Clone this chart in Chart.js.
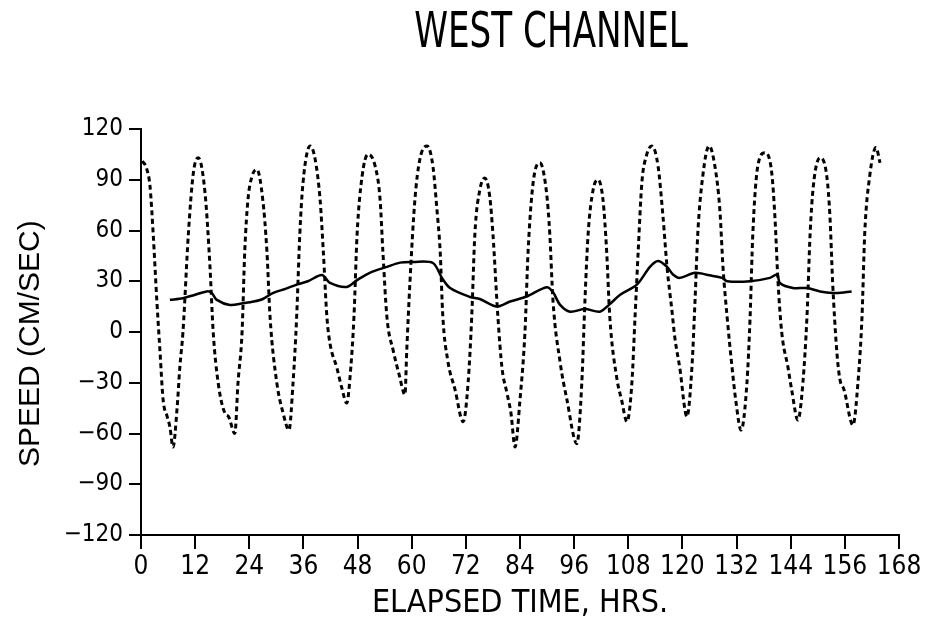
<!DOCTYPE html>
<html>
<head>
<meta charset="utf-8">
<script src="https://cdn.jsdelivr.net/npm/chart.js@4/dist/chart.umd.min.js"></script>
<style>
  html, body { margin: 0; padding: 0; background: #fff; }
  #wrap { width: 927px; height: 623px; }
</style>
</head>
<body>
<div id="wrap"><canvas id="chart" width="927" height="623"></canvas></div>
<script>
// Measured current, west channel: tidal speed (dashed) and filtered residual (solid)
const tideHours = [
  0.3, 1.2, 2.0, 2.7, 3.5, 4.2, 4.9, 5.8, 6.4, 7.1,
  8.0, 8.6, 9.3, 10.5, 11.6, 12.7, 14.2, 15.3, 16.0, 17.1, 18.6, 19.4, 20.8,
  21.5, 22.4, 23.0, 23.7, 24.6, 25.7, 27.0, 27.9, 28.6, 30.1, 31.5, 32.8,
  33.7, 34.5, 35.2, 35.9, 37.5, 38.6, 39.7, 40.4, 41.2, 41.9, 43.4, 44.5, 45.6,
  46.5, 47.2, 47.9, 49.0, 50.3, 51.9, 53.0, 53.6, 54.5, 55.9, 57.2, 58.5,
  58.9, 59.6, 60.7, 61.8, 63.4, 64.7, 65.6, 66.3, 66.9, 68.0, 69.6, 71.4,
  72.5, 73.3, 74.0, 75.1, 76.2, 77.3, 78.0, 79.1, 80.0, 81.1, 82.0, 82.9,
  84.0, 85.1, 85.8, 86.9, 88.4, 89.9, 90.6, 91.3, 92.9, 94.4, 96.6,
  97.7, 98.4, 99.1, 100.2, 101.3, 102.4, 103.2, 103.9, 105.5, 106.5, 107.7,
  108.8, 109.5, 110.2, 111.0, 112.0, 113.2, 114.6, 115.7, 116.6, 117.7, 118.3, 119.4, 121.0,
  122.1, 122.8, 123.4, 124.5, 125.9, 127.2, 128.3, 129.0, 129.9, 131.0, 131.8, 133.0,
  134.3, 135.0, 135.6, 136.7, 138.3, 139.8, 140.5, 141.2, 142.0, 143.4, 144.2, 145.6,
  146.7, 147.6, 148.3, 149.0, 150.5, 152.0, 152.7, 153.3, 154.2, 154.9, 155.8, 157.8,
  158.9, 159.8, 160.4, 161.5, 162.9, 163.8
];
const tideSpeed = [
  101, 97, 86, 58, 19, -11, -40, -50, -56, -68,
  -45, -21, 0, 58, 94, 103, 82, 38, 0, -30, -48, -50, -60,
  -30, 0, 48, 78, 92, 96, 78, 48, 9, -30, -48, -58,
  -30, 9, 58, 88, 110, 102, 78, 48, 9, -7, -21, -33, -42,
  -21, 9, 58, 92, 105, 98, 78, 48, 9, -11, -25, -37,
  -11, 29, 78, 102, 110, 98, 72, 48, 9, -17, -34, -53,
  -30, 9, 58, 84, 91, 80, 58, 9, -21, -36, -48, -68,
  -40, 0, 48, 88, 100, 82, 58, 19, -18, -40, -66,
  -30, 19, 58, 84, 90, 78, 48, 9, -28, -40, -53,
  -30, 9, 48, 88, 104, 110, 98, 68, 38, 12, -3, -21, -50,
  -21, 19, 58, 92, 110, 98, 72, 38, 9, -21, -40, -58,
  -30, 9, 58, 98, 106, 94, 68, 29, 0, -21, -34, -52,
  -30, 9, 58, 86, 103, 92, 68, 29, -11, -28, -34, -55,
  -30, 9, 58, 92, 109, 100
];
const residualHours = [
  6.4, 9.3, 12.0, 14.6, 15.7, 16.8, 19.7, 22.6, 25.0, 27.0, 29.2, 32.0, 34.5, 37.0,
  40.1, 41.9, 45.6, 47.9, 50.7, 54.5, 57.4, 60.3, 64.7, 66.7, 68.5, 72.9, 75.1, 78.9,
  81.8, 85.5, 89.9, 91.3, 92.9, 95.1, 98.4, 101.7, 103.9, 106.2, 109.9, 112.8, 114.6,
  116.6, 117.9, 119.4, 122.8, 126.0, 128.8, 129.9, 135.0, 139.4, 141.0, 141.6, 144.5,
  147.6, 150.5, 154.2, 157.5
];
const residualSpeed = [
  19, 20, 22, 24, 23, 19, 16, 17, 18, 19.5, 23, 25.5, 28, 30,
  33.7, 29, 26.6, 30.7, 35, 38.5, 41, 41.4, 40.8, 32, 26, 20.7, 19.5, 15,
  18, 21, 26.5, 23.6, 16, 12, 13.6, 12, 16.5, 22, 28, 38.5, 42,
  38.5, 34, 32, 35, 33.5, 32, 30, 30, 32, 34, 29, 26,
  26, 24, 23, 24
];
const xTickValues = [0, 12, 24, 36, 48, 60, 72, 84, 96, 108, 120, 132, 144, 156, 168];
const yTickValues = [-120, -90, -60, -30, 0, 30, 60, 90, 120];

const NARROW = '"DejaVu Sans Condensed", "Liberation Sans Narrow", "Liberation Sans", sans-serif';
const REGULAR = '"Liberation Sans", Arial, sans-serif';

const toPoints = (xs, ys) => xs.map((x, i) => ({ x: x, y: ys[i] }));
const signed = v => (v < 0 ? '\u2212' + Math.abs(v) : String(v));

// Heading above the plot, drawn with a narrow horizontal squeeze
const headingPlugin = {
  id: 'heading',
  afterDraw(chart, args, opts) {
    const ctx = chart.ctx;
    ctx.save();
    ctx.font = opts.size + 'px ' + opts.family;
    ctx.fillStyle = '#000';
    ctx.textAlign = 'center';
    ctx.textBaseline = 'alphabetic';
    ctx.translate(opts.x, opts.y);
    ctx.scale(opts.squeeze, 1);
    ctx.fillText(opts.text, 0, 0);
    ctx.restore();
  }
};

new Chart(document.getElementById('chart'), {
  type: 'line',
  data: {
    datasets: [
      {
        label: 'Tidal speed',
        data: toPoints(tideHours, tideSpeed),
        borderColor: '#000',
        borderWidth: 3,
        borderDash: [5, 3.5],
        pointRadius: 0,
        cubicInterpolationMode: 'monotone',
        fill: false
      },
      {
        label: 'Residual',
        data: toPoints(residualHours, residualSpeed),
        borderColor: '#000',
        borderWidth: 2.5,
        pointRadius: 0,
        tension: 0.3,
        fill: false
      }
    ]
  },
  plugins: [headingPlugin],
  options: {
    responsive: false,
    animation: false,
    devicePixelRatio: 1,
    layout: { padding: { top: 129, left: 0, right: 28, bottom: 0 } },
    plugins: {
      legend: { display: false },
      tooltip: { enabled: false },
      heading: { text: 'WEST CHANNEL', x: 551, y: 47, size: 50, squeeze: 0.76, family: NARROW }
    },
    scales: {
      x: {
        type: 'linear',
        min: 0,
        max: 168,
        afterBuildTicks: s => { s.ticks = xTickValues.map(v => ({ value: v })); },
        afterFit: s => { s.height = 88; },
        grid: { display: true, drawOnChartArea: false, drawTicks: true, tickLength: 14, color: '#000', lineWidth: 2 },
        border: { display: true, color: '#000', width: 2 },
        ticks: { color: '#000', font: { family: NARROW, size: 26 }, padding: 3, maxRotation: 0, autoSkip: false },
        title: { display: true, text: 'ELAPSED TIME, HRS.', color: '#000', font: { family: NARROW, size: 32 }, padding: { top: 0, bottom: 0 } }
      },
      y: {
        type: 'linear',
        min: -120,
        max: 120,
        afterBuildTicks: s => { s.ticks = yTickValues.map(v => ({ value: v })); },
        afterFit: s => { s.width = 141; },
        grid: { display: true, drawOnChartArea: false, drawTicks: true, tickLength: 12, color: '#000', lineWidth: 2 },
        border: { display: true, color: '#000', width: 2 },
        ticks: { color: '#000', font: { family: NARROW, size: 24 }, padding: 6, callback: v => signed(v) },
        // trailing spaces nudge the rotated label slightly below the axis midpoint
        title: { display: true, text: 'SPEED (CM/SEC)\u2002 ', color: '#000', font: { family: REGULAR, size: 30 }, padding: { top: 13, bottom: 0 } }
      }
    }
  }
});
</script>
</body>
</html>
